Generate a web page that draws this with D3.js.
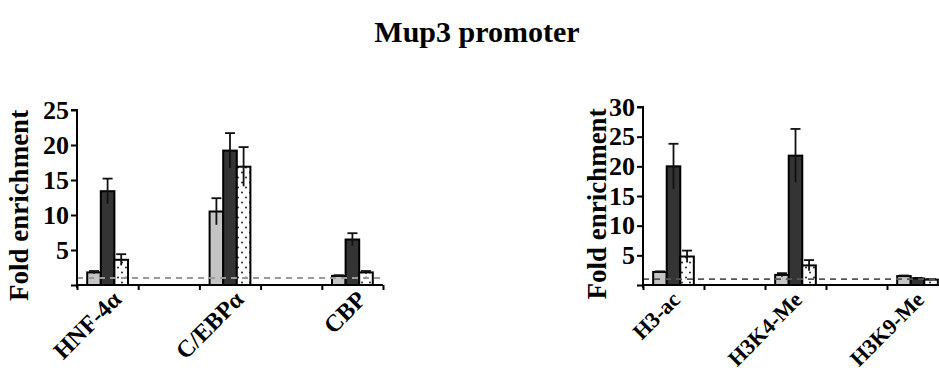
<!DOCTYPE html>
<html>
<head>
<meta charset="utf-8">
<script src="https://cdn.jsdelivr.net/npm/d3@7"></script>
<style>
  html, body { margin: 0; padding: 0; background: #fff; }
  svg { display: block; }
  text { font-family: "Liberation Serif", "Times New Roman", serif; font-weight: bold; fill: #000; }
</style>
</head>
<body>
<svg id="chart" width="939" height="379"></svg>
<script>
// Series shown in every group: control (light grey), treated (dark), third condition (dotted)
const series = ["gray", "dark", "dotted"];

// Transcription factor panel
const tfCategories = ["HNF-4α", "C/EBPα", "CBP"];
const tfValues = {
  gray:   [1.8, 10.5, 1.3],
  dark:   [13.4, 19.2, 6.5],
  dotted: [3.6, 16.9, 1.8]
};
const tfErrors = {
  gray:   [0.2, 1.9, 0.1],
  dark:   [1.8, 2.5, 0.9],
  dotted: [0.8, 2.8, 0.2]
};
const tfTicks = [5, 10, 15, 20, 25];

// Histone modification panel
const hmCategories = ["H3-ac", "H3K4-Me", "H3K9-Me"];
const hmValues = {
  gray:   [2.2, 1.7, 1.5],
  dark:   [20.0, 21.8, 1.1],
  dotted: [4.8, 3.3, 0.9]
};
const hmErrors = {
  gray:   [0.1, 0.3, 0.1],
  dark:   [3.8, 4.5, 0.1],
  dotted: [1.0, 0.9, 0.1]
};
const hmTicks = [5, 10, 15, 20, 25, 30];

const baselineFold = 1;

const svg = d3.select("#chart");

// dotted fill pattern
const defs = svg.append("defs");
const pat = defs.append("pattern")
  .attr("id", "dots").attr("patternUnits", "userSpaceOnUse")
  .attr("width", 8).attr("height", 10);
pat.append("rect").attr("width", 8).attr("height", 10).attr("fill", "#fff");
pat.append("circle").attr("cx", 2).attr("cy", 2.5).attr("r", 1).attr("fill", "#222");
pat.append("circle").attr("cx", 6).attr("cy", 7.5).attr("r", 1).attr("fill", "#222");

const fills = { gray: "#c4c4c4", dark: "#343434", dotted: "url(#dots)" };

svg.append("text")
  .attr("x", 477).attr("y", 42)
  .attr("text-anchor", "middle")
  .style("font-size", "30px")
  .text("Mup3 promoter");

function panel(opts) {
  const { left, slotW, bottom, top, yMax, ticks, categories, values, errors,
          labelX, labelShift, labelSize, dashColor } = opts;
  // categories sit in every other slot, with an empty slot between them
  const nSlots = categories.length * 2 - 1;
  const x = d3.scaleLinear().domain([0, nSlots]).range([left, left + slotW * nSlots]);
  const y = d3.scaleLinear().domain([0, yMax]).range([bottom, top]);
  const g = svg.append("g");

  // bars
  categories.forEach((cat, i) => {
    const slot = i * 2;
    const inner = d3.scaleBand().domain(series)
      .range([x(slot), x(slot + 1)]).paddingOuter(0.75).paddingInner(0);
    series.forEach(s => {
      const v = values[s][i], e = errors[s][i];
      const bx = inner(s), bw = inner.bandwidth();
      g.append("rect")
        .attr("x", bx).attr("y", y(v))
        .attr("width", bw).attr("height", y(0) - y(v))
        .attr("fill", fills[s]).attr("stroke", "#000").attr("stroke-width", 2);
      const cx = bx + bw / 2;
      g.append("line")
        .attr("x1", cx).attr("x2", cx).attr("y1", y(v - e)).attr("y2", y(v + e))
        .attr("stroke", "#111").attr("stroke-width", 1.8);
      g.append("line")
        .attr("x1", cx - 5).attr("x2", cx + 5).attr("y1", y(v + e)).attr("y2", y(v + e))
        .attr("stroke", "#111").attr("stroke-width", 1.8);
    });
    // category label
    const lx = x(slot + 0.5) + labelShift;
    g.append("text")
      .attr("transform", `translate(${lx},${bottom + 16}) rotate(-45)`)
      .attr("text-anchor", "end")
      .style("font-size", labelSize + "px")
      .text(cat);
  });

  // dashed fold = 1 reference
  g.append("line")
    .attr("x1", x(0)).attr("x2", x(nSlots))
    .attr("y1", y(baselineFold)).attr("y2", y(baselineFold))
    .attr("stroke", dashColor).attr("stroke-width", 1.8).attr("stroke-dasharray", "6,5");

  // axes
  const yAxis = d3.axisLeft(y).tickValues([0].concat(ticks)).tickSize(6).tickPadding(2)
    .tickFormat(d => d === 0 ? "" : d);
  const ya = g.append("g").attr("transform", `translate(${left},0)`).call(yAxis);
  ya.select(".domain").attr("stroke-width", 2).attr("d", `M-6,${top}H0V${bottom + 3}`);
  ya.selectAll(".tick line").attr("stroke-width", 2);
  ya.selectAll(".tick text").style("font-size", "26px")
    .style("font-family", "'Liberation Serif', serif").style("font-weight", "bold");

  const xAxis = d3.axisBottom(x).tickValues(d3.range(nSlots + 1)).tickSize(5).tickFormat("");
  const xa = g.append("g").attr("transform", `translate(0,${bottom})`).call(xAxis);
  xa.select(".domain").attr("stroke-width", 2).attr("d", `M${left},0H${left + slotW * nSlots}`);
  xa.selectAll(".tick line").attr("stroke-width", 2);

  // y title
  g.append("text")
    .attr("transform", `translate(${labelX},${(top + bottom) / 2 + 8}) rotate(-90)`)
    .attr("text-anchor", "middle")
    .style("font-size", "27px")
    .text("Fold enrichment");
}

panel({
  left: 77, slotW: 61.2, bottom: 285, top: 110, yMax: 25, ticks: tfTicks,
  categories: tfCategories, values: tfValues, errors: tfErrors,
  labelX: 28, labelShift: 15, labelSize: 24, dashColor: "#9a9a9a"
});

panel({
  left: 643, slotW: 61, bottom: 285, top: 107, yMax: 30, ticks: hmTicks,
  categories: hmCategories, values: hmValues, errors: hmErrors,
  labelX: 606, labelShift: 8, labelSize: 22, dashColor: "#555"
});
</script>
</body>
</html>
